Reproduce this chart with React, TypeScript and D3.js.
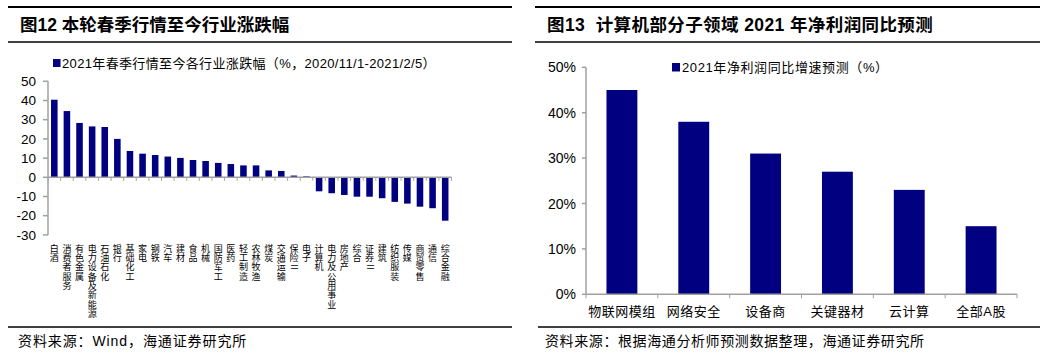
import React from "react";
import * as d3 from "d3";

const leftCategories = [
  "白酒", "消费者服务", "有色金属", "电力设备及新能源", "石油石化", "银行", "基础化工", "家电",
  "钢铁", "汽车", "建材", "食品", "机械", "国防军工", "医药", "轻工制造", "农林牧渔", "煤炭",
  "交通运输", "保险Ⅱ", "电子", "计算机", "电力及公用事业", "房地产", "综合", "证券Ⅱ", "建筑",
  "纺织服装", "传媒", "商贸零售", "通信", "综合金融",
];
const leftValues = [
  40.4, 34.5, 28.3, 26.5, 26.2, 20.0, 13.7, 12.3, 11.6, 10.8, 10.1, 9.0, 8.5, 7.5, 6.9, 6.2, 6.2, 3.6,
  3.3, 0.9, 0.5, -7.3, -8.3, -9.2, -10.1, -10.1, -10.9, -12.8, -13.7, -15.3, -16.1, -22.6,
];
const leftTicks = [50, 40, 30, 20, 10, 0, -10, -20, -30];

const rightCategories = ["物联网模组", "网络安全", "设备商", "关键器材", "云计算", "全部A股"];
const rightValues = [0.45, 0.38, 0.31, 0.27, 0.23, 0.15];
const rightTicks = [0, 0.1, 0.2, 0.3, 0.4, 0.5];

const NAVY = "#000080";
const AXIS = "#a0a0a0";
const LATIN = "'Liberation Sans', Arial, 'Noto Sans CJK SC', sans-serif";
const CJK = "'Noto Sans CJK SC', sans-serif";

export default function App() {
  // Left chart scales
  const lx = d3.scaleBand<string>().domain(leftCategories).range([48, 451.5]).paddingInner(0.48).paddingOuter(0.24);
  const ly = d3.scaleLinear().domain([-30, 50]).range([234.9, 81.3]);
  const lStep = lx.step();
  const lStart = 48;

  // Right chart scales
  const rx = d3.scaleBand<string>().domain(rightCategories).range([586, 1017]).paddingInner(0.57).paddingOuter(0.285);
  const ry = d3.scaleLinear().domain([0, 0.5]).range([294.3, 67.3]);
  const rStep = rx.step();
  const fmtPct = d3.format(".0%");

  return (
    <svg width={1054} height={360} style={{ position: "absolute", left: 0, top: 0, background: "#fff" }}>
      {/* Left panel frame */}
      <line x1={8} x2={512} y1={7} y2={7} stroke="#000" strokeWidth={2} />
      <line x1={8} x2={512} y1={42} y2={42} stroke="#000" strokeWidth={1.5} />
      <line x1={8} x2={512} y1={327} y2={327} stroke="#000" strokeWidth={1.5} />
      <text x={20} y={31} fontFamily={LATIN} fontWeight="bold" fontSize={17.5} fill="#000">图12 本轮春季行情至今行业涨跌幅</text>
      <text x={18} y={346} fontFamily={LATIN} fontSize={14} fill="#000" letterSpacing={0.9}>资料来源：Wind，海通证券研究所</text>

      {/* Right panel frame */}
      <line x1={535} x2={1040} y1={7} y2={7} stroke="#000" strokeWidth={2} />
      <line x1={535} x2={1040} y1={42} y2={42} stroke="#000" strokeWidth={1.5} />
      <line x1={538} x2={1040} y1={327} y2={327} stroke="#000" strokeWidth={1.5} />
      <text x={547} y={31} fontFamily={LATIN} fontWeight="bold" fontSize={17.5} fill="#000" letterSpacing={0.4} style={{ whiteSpace: "pre" }}>{"图13  计算机部分子领域 2021 年净利润同比预测"}</text>
      <text x={545} y={346} fontFamily={LATIN} fontSize={14} fill="#000" letterSpacing={0.6}>资料来源：根据海通分析师预测数据整理，海通证券研究所</text>

      {/* Left legend */}
      <rect x={53} y={59} width={7.5} height={8} fill={NAVY} />
      <text x={62} y={68} fontFamily={LATIN} fontSize={13} fill="#000" letterSpacing={0.35}>2021年春季行情至今各行业涨跌幅（%，2020/11/1-2021/2/5）</text>

      {/* Left bars */}
      {leftCategories.map((c, i) => {
        const v = leftValues[i];
        const y0 = ly(0);
        const y1 = ly(v);
        return <rect key={c} x={lx(c)} y={Math.min(y0, y1)} width={lx.bandwidth()} height={Math.abs(y1 - y0)} fill={NAVY} />;
      })}

      {/* Left y axis */}
      <line x1={48} x2={48} y1={ly(50)} y2={ly(-30)} stroke={AXIS} strokeWidth={1.5} />
      {leftTicks.map((t) => (
        <g key={t}>
          <line x1={43} x2={48} y1={ly(t)} y2={ly(t)} stroke={AXIS} strokeWidth={1.5} />
          <text x={36} y={ly(t) + 4.7} textAnchor="end" fontFamily={LATIN} fontSize={13.5} fill="#000">{t}</text>
        </g>
      ))}
      {/* Left zero axis */}
      <line x1={48} x2={451.5} y1={ly(0)} y2={ly(0)} stroke={AXIS} strokeWidth={1.5} />
      {d3.range(leftCategories.length + 1).map((k) => (
        <line key={k} x1={lStart + k * lStep} x2={lStart + k * lStep} y1={ly(0)} y2={ly(0) + 3.5} stroke={AXIS} strokeWidth={1} />
      ))}
      {/* Left vertical labels: one character per text, stacked */}
      {leftCategories.map((c) => {
        const cx = (lx(c) as number) + lx.bandwidth() / 2;
        return (
          <g key={c}>
            {Array.from(c).map((ch, j) => {
              const cy = 248.5 + j * 9.3;
              if (ch === "Ⅱ") {
                return (
                  <text key={j} x={cx} y={cy} textAnchor="middle" dominantBaseline="middle" fontFamily={CJK} fontSize={9} fill="#000" transform={`rotate(90 ${cx} ${cy})`}>{ch}</text>
                );
              }
              return (
                <text key={j} x={cx} y={cy + 3.3} textAnchor="middle" fontFamily={CJK} fontSize={9} fill="#000">{ch}</text>
              );
            })}
          </g>
        );
      })}

      {/* Right legend */}
      <rect x={672} y={63} width={8} height={8.5} fill={NAVY} />
      <text x={682} y={72} fontFamily={LATIN} fontSize={13} fill="#000" letterSpacing={0.6}>2021年净利润同比增速预测（%）</text>

      {/* Right bars */}
      {rightCategories.map((c, i) => (
        <rect key={c} x={rx(c)} y={ry(rightValues[i])} width={rx.bandwidth()} height={ry(0) - ry(rightValues[i])} fill={NAVY} />
      ))}

      {/* Right y axis */}
      <line x1={586} x2={586} y1={ry(0.5)} y2={ry(0)} stroke={AXIS} strokeWidth={1.5} />
      {rightTicks.map((t) => (
        <g key={t}>
          <line x1={582} x2={586} y1={ry(t)} y2={ry(t)} stroke={AXIS} strokeWidth={1.5} />
          <text x={576} y={ry(t) + 5} textAnchor="end" fontFamily={LATIN} fontSize={14} fill="#000">{fmtPct(t)}</text>
        </g>
      ))}
      {/* Right x axis */}
      <line x1={586} x2={1017} y1={ry(0)} y2={ry(0)} stroke={AXIS} strokeWidth={1.5} />
      {d3.range(rightCategories.length + 1).map((k) => (
        <line key={k} x1={586 + k * rStep} x2={586 + k * rStep} y1={ry(0)} y2={ry(0) + 4} stroke={AXIS} strokeWidth={1} />
      ))}
      {rightCategories.map((c) => (
        <text key={c} x={(rx(c) as number) + rx.bandwidth() / 2} y={316} textAnchor="middle" fontFamily={LATIN} fontSize={13} fill="#000" letterSpacing={0.5}>{c}</text>
      ))}
    </svg>
  );
}
